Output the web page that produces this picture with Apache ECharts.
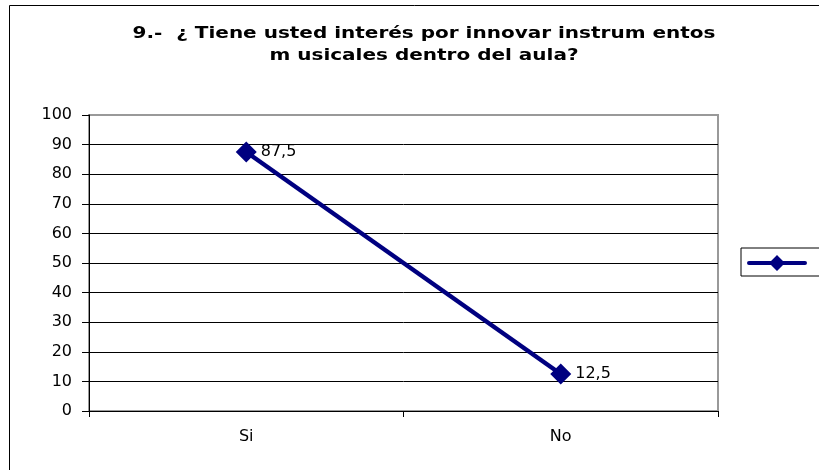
<!DOCTYPE html>
<html>
<head>
<meta charset="utf-8">
<script src="https://cdn.jsdelivr.net/npm/echarts@6/dist/echarts.min.js"></script>
<style>
  html, body { margin: 0; padding: 0; background: #fff; }
  #chart { width: 819px; height: 470px; }
</style>
</head>
<body>
<div id="chart"></div>
<script>
// datos del gráfico
const categorias = ['Si', 'No'];
const valores = [87.5, 12.5];
const yTicks = [0, 10, 20, 30, 40, 50, 60, 70, 80, 90, 100];

const tituloLineas = [
    '9.-  ¿ Tiene usted interés por innovar instrum entos',
    'm usicales dentro del aula?'
];

// línea gruesa con rombo para la leyenda
const iconoLeyenda = 'path://M2,8 L24,8 L30,2 L36,8 L58,8 A2,2 0 0 1 58,12 L36,12 L30,18 L24,12 L2,12 A2,2 0 0 1 2,8 Z';

const fuente = 'DejaVu Sans, Arial, sans-serif';

const chart = echarts.init(document.getElementById('chart'));

const splitColors = yTicks.map((t, i) => (i === yTicks.length - 1 ? '#999' : '#000'));

// título espaciado (texto estirado en horizontal)
const tituloGraphic = tituloLineas.map((linea, i) => ({
    type: 'text',
    x: 424,
    y: 34 + i * 22,
    scaleX: 1.25,
    silent: true,
    style: {
        text: linea,
        align: 'center',
        verticalAlign: 'middle',
        fill: '#000',
        font: 'bold 16px ' + fuente
    }
}));

chart.setOption({
    animation: false,
    textStyle: { fontFamily: fuente },
    graphic: [{
        type: 'rect',
        shape: { x: 9.5, y: 5.5, width: 830, height: 480 },
        style: { fill: 'none', stroke: '#000', lineWidth: 1 },
        silent: true
    }].concat(tituloGraphic),
    legend: {
        left: 741,
        top: 248,
        data: [{ name: 'serie', icon: iconoLeyenda }],
        itemWidth: 60,
        itemHeight: 20,
        formatter: () => '',
        borderColor: '#000',
        borderWidth: 1,
        padding: [5, 14, 5, 6],
        textStyle: { fontSize: 1 }
    },
    grid: {
        left: 89,
        right: 101,
        top: 115,
        bottom: 59,
        show: true,
        borderColor: '#999',
        borderWidth: 2
    },
    xAxis: {
        type: 'category',
        data: categorias,
        boundaryGap: true,
        axisLine: { lineStyle: { color: '#000', width: 1 } },
        axisTick: { show: true, length: 6, lineStyle: { color: '#000' } },
        axisLabel: { color: '#000', fontSize: 16, margin: 18 },
        splitLine: { show: false }
    },
    yAxis: {
        type: 'value',
        min: 0,
        max: 100,
        interval: 10,
        axisLine: { show: true, lineStyle: { color: '#000', width: 1 } },
        axisTick: { show: true, length: 7, lineStyle: { color: '#000' } },
        axisLabel: { color: '#000', fontSize: 16, margin: 17 },
        splitLine: { show: true, lineStyle: { color: splitColors, width: 1 } }
    },
    series: [{
        name: 'serie',
        type: 'line',
        data: valores,
        color: '#000080',
        lineStyle: { color: '#000080', width: 4.5 },
        symbol: 'diamond',
        symbolSize: 21,
        itemStyle: { color: '#000080' },
        label: {
            show: true,
            position: 'right',
            distance: 4,
            color: '#000',
            fontSize: 16,
            formatter: p => String(p.value).replace('.', ',')
        }
    }]
});
</script>
</body>
</html>
